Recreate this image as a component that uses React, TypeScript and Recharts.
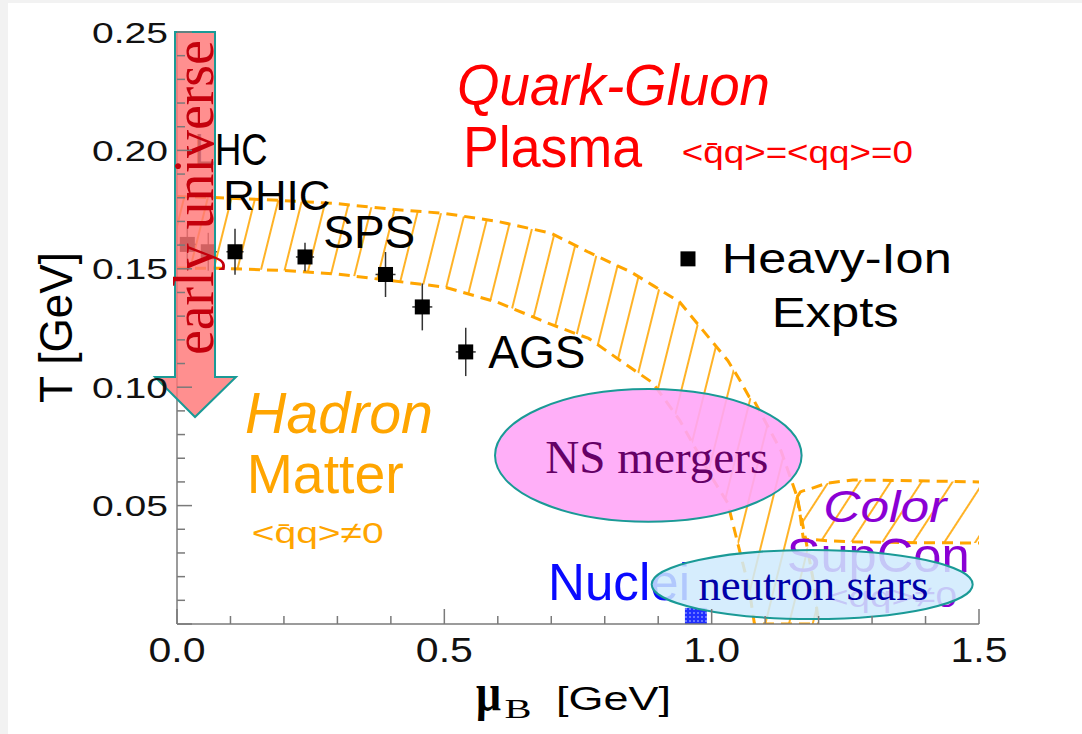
import React from 'react';
import {
  ComposedChart,
  XAxis,
  YAxis,
  Area,
  Line,
  Scatter,
  ErrorBar,
  ReferenceArea,
  ReferenceDot,
} from 'recharts';

// ---------- axes ----------
const xTicks = [0, 0.1, 0.2, 0.3, 0.4, 0.5, 0.6, 0.7, 0.8, 0.9, 1.0, 1.1, 1.2, 1.3, 1.4, 1.5];
const xMajor = [0, 0.5, 1.0, 1.5];
const xMajorLabels = ['0.0', '0.5', '1.0', '1.5'];
const yTicks = [
  0, 0.01, 0.02, 0.03, 0.04, 0.05, 0.06, 0.07, 0.08, 0.09, 0.1, 0.11, 0.12, 0.13,
  0.14, 0.15, 0.16, 0.17, 0.18, 0.19, 0.2, 0.21, 0.22, 0.23, 0.24, 0.25,
];
const yMajor = [0, 0.05, 0.1, 0.15, 0.2, 0.25];
const yMajorLabels = ['', '0.05', '0.10', '0.15', '0.20', '0.25'];

// ---------- heavy-ion freeze-out points ----------
const pointMu = [0.0193, 0.0585, 0.1085, 0.2394, 0.39, 0.4588, 0.54];
const pointT = [0.1603, 0.1572, 0.1572, 0.155, 0.1476, 0.1339, 0.1149];
const pointErrT = [0.008, 0.008, 0.0097, 0.006, 0.0095, 0.0099, 0.0102];
const pointErrMu = [0.016, 0.016, 0.016, 0.017, 0.0187, 0.0187, 0.0187];

const legendMu = [0.9557];
const legendT = [0.1542];

// ---------- transition band ----------
const bandMu = [0, 0.08, 0.2, 0.3, 0.4, 0.5, 0.6, 0.7, 0.77, 0.85, 0.89, 0.94, 1.0, 1.03, 1.05, 1.07, 1.08, 1.13, 1.16, 1.175, 1.19, 1.2];
const bandLow = [0.1503, 0.1502, 0.1493, 0.1478, 0.145, 0.1423, 0.1358, 0.1265, 0.1206, 0.108, 0.1018, 0.0861, 0.062, 0.0511, 0.033, 0.015, 0, 0, 0, 0, 0, 0];
const bandHigh = [0.1805, 0.18, 0.1788, 0.1775, 0.1752, 0.1734, 0.17, 0.165, 0.157, 0.1485, 0.143, 0.136, 0.1195, 0.1113, 0.104, 0.096, 0.094, 0.073, 0.0536, 0.0367, 0.0186, 0];

// ---------- color superconductor band ----------
const cflMu = [1.16, 1.166, 1.171, 1.178, 1.216, 1.264, 1.35, 1.5];
const cflLow = [0.0536, 0.0452, 0.0367, 0.0358, 0.0352, 0.0347, 0.0344, 0.0342];
const cflHigh = [0.0536, 0.0558, 0.0562, 0.0566, 0.0595, 0.0608, 0.0606, 0.06];

// ---------- boxes (data units) ----------
const nucleiMu = [0.95, 0.991];
const nucleiT = [0, 0.0068];
const nsMergersMu = [0.5948, 1.1682];
const nsMergersT = [0.0432, 0.0992];
const neutronStarsMu = [0.8878, 1.4882];
const neutronStarsT = [0.0021, 0.0313];
const arrowMu = [-0.0411, 0.1103];
const arrowT = [0.0874, 0.25];

const pointData = pointMu.map((m, i) => ({ mu: m, t: pointT[i], errT: pointErrT[i], errMu: pointErrMu[i] }));
const legendData = legendMu.map((m, i) => ({ mu: m, t: legendT[i] }));
const bandData = bandMu.map((m, i) => ({ mu: m, lo: bandLow[i], hi: bandHigh[i], range: [bandLow[i], bandHigh[i]] }));
const cflData = cflMu.map((m, i) => ({ mu: m, lo: cflLow[i], hi: cflHigh[i], range: [cflLow[i], cflHigh[i]] }));

const SANS = 'Liberation Sans, Arial, Helvetica, sans-serif';
const SERIF = 'Liberation Serif, Times New Roman, serif';
const ORANGE = '#FFA500';
const AXIS = '#7a7a7a';

const isIn = (v: number, arr: number[]) => arr.findIndex((a) => Math.abs(a - v) < 1e-6);

const makeTick = (side: 'bottom' | 'top' | 'left' | 'right') => (props: any) => {
  const { x, y, payload } = props;
  const v = payload.value;
  const major = side === 'bottom' || side === 'top' ? isIn(v, xMajor) : isIn(v, yMajor);
  const len = major >= 0 ? 15 : 8;
  let line;
  if (side === 'bottom') line = <line x1={x} y1={y} x2={x} y2={y - len} stroke={AXIS} strokeWidth={1.5} />;
  else if (side === 'top') line = <line x1={x} y1={y} x2={x} y2={y + len} stroke={AXIS} strokeWidth={1.5} />;
  else if (side === 'left') line = <line x1={x} y1={y} x2={x + len} y2={y} stroke={AXIS} strokeWidth={1.5} />;
  else line = <line x1={x} y1={y} x2={x - len} y2={y} stroke={AXIS} strokeWidth={1.5} />;
  let label = null;
  if (side === 'bottom' && major >= 0) {
    label = (
      <text x={x} y={y + 38} textAnchor="middle" fontFamily={SANS} fontSize={35} fill="#111"
        textLength={57} lengthAdjust="spacingAndGlyphs">{xMajorLabels[major]}</text>
    );
  }
  if (side === 'left' && major >= 0 && yMajorLabels[major]) {
    label = (
      <text x={x - 9} y={y + 10.5} textAnchor="end" fontFamily={SANS} fontSize={29} fill="#111"
        textLength={76} lengthAdjust="spacingAndGlyphs">{yMajorLabels[major]}</text>
    );
  }
  return (
    <g>
      {line}
      {label}
    </g>
  );
};

type NoteOpts = {
  size: number;
  color: string;
  len?: number;
  italic?: boolean;
  family?: string;
  anchor?: 'start' | 'middle' | 'end';
  rotate?: number;
  weight?: string;
  z?: number;
};

const note = (key: string, mu: number, t: number, text: string, o: NoteOpts) => (
  <ReferenceDot
    key={key}
    x={mu}
    y={t}
    r={0}
    ifOverflow="visible"
    zIndex={o.z ?? 650}
    shape={(p: any) => (
      <text
        x={0}
        y={0}
        transform={`translate(${p.cx},${p.cy})${o.rotate ? ` rotate(${o.rotate})` : ''}`}
        textAnchor={o.anchor ?? 'start'}
        fontFamily={o.family ?? SANS}
        fontSize={o.size}
        fontStyle={o.italic ? 'italic' : 'normal'}
        fontWeight={o.weight ?? 'normal'}
        fill={o.color}
        textLength={o.len}
        lengthAdjust={o.len ? 'spacingAndGlyphs' : undefined}
      >
        {text}
      </text>
    )}
  />
);

const square = (p: any) => (
  <rect x={p.cx - 7.5} y={p.cy - 7.5} width={15} height={15} fill="#000" />
);

const ellipseShape = (fill: string, opacity: number, text: string, textColor: string, size: number, len: number, dx: number, dy: number) =>
  (p: any) => {
    const cx = p.x + p.width / 2;
    const cy = p.y + p.height / 2;
    return (
      <g>
        <ellipse cx={cx} cy={cy} rx={p.width / 2} ry={p.height / 2} fill={fill} fillOpacity={opacity}
          stroke="#1a9a96" strokeWidth={2} />
        <text x={cx + dx} y={cy + dy} textAnchor="middle" fontFamily={SERIF} fontSize={size} fill={textColor}
          textLength={len} lengthAdjust="spacingAndGlyphs">{text}</text>
      </g>
    );
  };

const arrowShape = (p: any) => {
  const { x, y, width: w, height: h } = p;
  const sl = x + w * 0.247;
  const sr = x + w * 0.741;
  const tip = x + w * 0.494;
  const hy = y + h * 0.896;
  const d = `M${sl},${y} L${sr},${y} L${sr},${hy} L${x + w},${hy} L${tip},${y + h} L${x},${hy} L${sl},${hy} Z`;
  const tx = x + w * 0.72;
  const ty = y + h * 0.43;
  return (
    <g>
      <path d={d} fill="#ff7676" fillOpacity={0.82} stroke="#1a9a96" strokeWidth={2} strokeLinejoin="miter" />
      <text x={0} y={0} transform={`translate(${tx},${ty}) rotate(-90)`} textAnchor="middle" fontFamily={SERIF}
        fontSize={56} fill="#c4000c" textLength={315} lengthAdjust="spacingAndGlyphs">early universe</text>
    </g>
  );
};

export default function App() {
  return (
    <div style={{ position: 'absolute', left: 0, top: 0, width: 1082, height: 734, background: '#f2f2f2' }}>
      <div style={{ position: 'absolute', left: 8, top: 3, width: 1074, height: 731, background: '#fff' }}>
        <ComposedChart width={1074} height={731} margin={{ top: 29, right: 103, bottom: 50, left: 69 }}
          style={{ fontFamily: SANS }}>
          <defs>
            <pattern id="hatchBand" patternUnits="userSpaceOnUse" width={23} height={40} patternTransform="rotate(14)">
              <line x1={11} y1={0} x2={11} y2={40} stroke={ORANGE} strokeWidth={1.7} />
            </pattern>
            <pattern id="hatchCfl" patternUnits="userSpaceOnUse" width={26} height={40} patternTransform="rotate(33)">
              <line x1={13} y1={0} x2={13} y2={40} stroke={ORANGE} strokeWidth={1.7} />
            </pattern>
            <pattern id="nucleiDots" patternUnits="userSpaceOnUse" width={4} height={4}>
              <rect x={0} y={0} width={4} height={4} fill="#1f2fff" />
              <circle cx={2} cy={2} r={0.8} fill="#c8d0ff" />
            </pattern>
          </defs>

          <XAxis dataKey="mu" type="number" domain={[0, 1.5]} ticks={xTicks} interval={0} height={60}
            allowDataOverflow tickSize={0} tickMargin={0} tickLine={false}
            axisLine={{ stroke: AXIS, strokeWidth: 1.5 }} tick={makeTick('bottom')} />
          <XAxis xAxisId="top" orientation="top" type="number" domain={[0, 1.5]} ticks={xTicks} interval={0} height={0}
            allowDataOverflow tickSize={0} tickMargin={0} tickLine={false}
            axisLine={{ stroke: AXIS, strokeWidth: 1.5 }} tick={makeTick('top')} />
          <YAxis dataKey="t" type="number" domain={[0, 0.25]} ticks={yTicks} interval={0} width={100}
            allowDataOverflow tickSize={0} tickMargin={0} tickLine={false}
            axisLine={{ stroke: AXIS, strokeWidth: 1.5 }} tick={makeTick('left')} />
          <YAxis yAxisId="right" orientation="right" type="number" domain={[0, 0.25]} ticks={yTicks} interval={0} width={0}
            allowDataOverflow tickSize={0} tickMargin={0} tickLine={false}
            axisLine={{ stroke: AXIS, strokeWidth: 1.5 }} tick={makeTick('right')} />

          <Area data={bandData} dataKey="range" type="linear" fill="url(#hatchBand)" fillOpacity={1} stroke="none"
            isAnimationActive={false} zIndex={100} />
          <Area data={cflData} dataKey="range" type="linear" fill="url(#hatchCfl)" fillOpacity={1} stroke="none"
            isAnimationActive={false} zIndex={100} />
          <Line data={bandData} dataKey="hi" type="linear" stroke={ORANGE} strokeWidth={3} strokeDasharray="11 7"
            dot={false} isAnimationActive={false} zIndex={200} />
          <Line data={bandData} dataKey="lo" type="linear" stroke={ORANGE} strokeWidth={3} strokeDasharray="11 7"
            dot={false} isAnimationActive={false} zIndex={200} />
          <Line data={cflData} dataKey="hi" type="linear" stroke={ORANGE} strokeWidth={3} strokeDasharray="11 7"
            dot={false} isAnimationActive={false} zIndex={200} />
          <Line data={cflData} dataKey="lo" type="linear" stroke={ORANGE} strokeWidth={3} strokeDasharray="11 7"
            dot={false} isAnimationActive={false} zIndex={200} />

          <ReferenceArea x1={nucleiMu[0]} x2={nucleiMu[1]} y1={nucleiT[0]} y2={nucleiT[1]} fill="url(#nucleiDots)"
            fillOpacity={1} stroke="none" ifOverflow="visible" zIndex={300} />

          <Scatter data={pointData} dataKey="t" shape={square} isAnimationActive={false} zIndex={600}>
            <ErrorBar dataKey="errT" direction="y" width={0} stroke="#333" strokeWidth={1.5} />
            <ErrorBar dataKey="errMu" direction="x" width={0} stroke="#333" strokeWidth={1.5} />
          </Scatter>
          <Scatter data={legendData} dataKey="t" shape={square} isAnimationActive={false} zIndex={600} />

          {note('qg', 0.5237, 0.2192, 'Quark-Gluon', { size: 57, color: '#ff0000', italic: true, len: 313 })}
          {note('pl', 0.5349, 0.1931, 'Plasma', { size: 57, color: '#ff0000', len: 179 })}
          {note('qq1', 0.9442, 0.1946, '<q\u0304q>=<qq>=0', { size: 31, color: '#ff0000', len: 231 })}
          {note('lhc', 0.0329, 0.1938, 'LHC', { size: 44, color: '#000', len: 73 })}
          {note('rhic', 0.0866, 0.1748, 'RHIC', { size: 42, color: '#000', len: 107 })}
          {note('sps', 0.2736, 0.1587, 'SPS', { size: 46, color: '#000', len: 92 })}
          {note('ags', 0.5822, 0.108, 'AGS', { size: 46, color: '#000', len: 97 })}
          {note('hi', 1.0188, 0.1481, 'Heavy-Ion', { size: 42, color: '#000', len: 230 })}
          {note('ex', 1.1123, 0.1256, 'Expts', { size: 42, color: '#000', len: 127 })}
          {note('had', 0.1272, 0.0805, 'Hadron', { size: 58, color: ORANGE, italic: true, len: 188 })}
          {note('mat', 0.1304, 0.0552, 'Matter', { size: 56, color: ORANGE, len: 157 })}
          {note('qq2', 0.1397, 0.0341, '<q\u0304q>\u22600', { size: 30, color: ORANGE, len: 132 })}
          {note('nuc', 0.6939, 0.0101, 'Nuclei', { size: 52, color: '#0a0aff', len: 142 })}
          {note('col', 1.2088, 0.0432, 'Color', { size: 44, color: '#8a00d4', italic: true, len: 123 })}
          {note('sup', 1.1403, 0.0221, 'SupCon', { size: 48, color: '#8a00d4', len: 183 })}
          {note('qq3', 1.2138, 0.0072, '<qq>\u22600', { size: 30, color: '#8a00d4', len: 131 })}

          {note('ylab', -0.197, 0.1252, 'T [GeV]', { size: 46, color: '#000', len: 151, anchor: 'middle', rotate: -90 })}
          {note('xmu', 0.5592, -0.0363, '\u03bc', { size: 52, color: '#000', len: 25, family: SERIF, weight: 'bold' })}
          {note('xb', 0.6125, -0.0397, 'B', { size: 27, color: '#000', len: 27, family: SERIF })}
          {note('xgev', 0.7089, -0.0363, '[GeV]', { size: 33, color: '#000', len: 115 })}

          <ReferenceArea x1={nsMergersMu[0]} x2={nsMergersMu[1]} y1={nsMergersT[0]} y2={nsMergersT[1]}
            ifOverflow="visible" zIndex={700}
            shape={ellipseShape('#ffa6f7', 0.9, 'NS mergers', '#660066', 46, 223, 8.5, 18)} />
          <ReferenceArea x1={neutronStarsMu[0]} x2={neutronStarsMu[1]} y1={neutronStarsT[0]} y2={neutronStarsT[1]}
            ifOverflow="visible" zIndex={700}
            shape={ellipseShape('#cfeafd', 0.85, 'neutron stars', '#0000a8', 45, 230, 1.3, 15.5)} />

          <ReferenceArea x1={arrowMu[0]} x2={arrowMu[1]} y1={arrowT[0]} y2={arrowT[1]} ifOverflow="visible"
            zIndex={800} shape={arrowShape} />
        </ComposedChart>
      </div>
    </div>
  );
}
